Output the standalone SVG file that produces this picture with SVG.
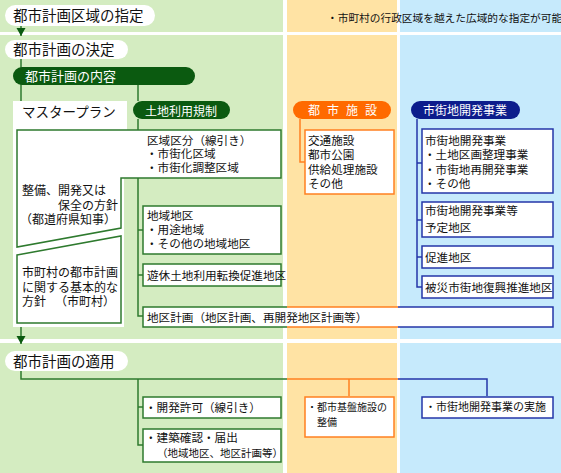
<svg xmlns="http://www.w3.org/2000/svg" width="561" height="473" viewBox="0 0 561 473">
<style>
text{font-family:"Liberation Sans","Noto Sans CJK JP",sans-serif;fill:#111}
.t12{font-size:11.6px}
.l12{font-size:12px}
.t11{font-size:11px}
.t10{font-size:10px}
.head{font-size:14.5px}
.w{fill:#fff}
.bg-g{fill:#d4ecc1}
.bg-o{fill:#ffe3a4}
.bg-b{fill:#c6eafc}
.pill-g{fill:#0b5a10}
.pill-o{fill:#ff6a00}
.pill-b{fill:#0c1d8c}
.box-g{fill:#fff;stroke:#2e7a2e;stroke-width:1.5}
.box-o{fill:#fff;stroke:#ff8020;stroke-width:1.5}
.box-b{fill:#fff;stroke:#2536a8;stroke-width:1.5}
.cg{fill:none;stroke:#2e7a2e;stroke-width:1.5}
.co{fill:none;stroke:#ff8020;stroke-width:1.5}
.cb{fill:none;stroke:#2536a8;stroke-width:1.5}
</style>
<defs>
<marker id="arr" markerUnits="userSpaceOnUse" markerWidth="9" markerHeight="10" refX="8" refY="4.5" orient="auto">
<path d="M0,0 L8,4.5 L0,9 z" fill="#0b5a10"/>
</marker>
</defs>

<!-- backgrounds -->
<g id="background">
<rect x="0" y="0" width="561" height="473" fill="#fff"/>
<rect class="bg-g" x="0" y="0" width="283" height="32"/>
<rect class="bg-g" x="0" y="35" width="283" height="304"/>
<rect class="bg-g" x="0" y="343" width="283" height="130"/>
<rect class="bg-o" x="287" y="0" width="110" height="32"/>
<rect class="bg-o" x="287" y="35" width="110" height="304"/>
<rect class="bg-o" x="287" y="343" width="110" height="130"/>
<rect class="bg-b" x="400" y="0" width="161" height="32"/>
<rect class="bg-b" x="400" y="35" width="161" height="304"/>
<rect class="bg-b" x="400" y="343" width="161" height="130"/>
</g>

<!-- connectors -->
<g id="connectors">
<path class="cg" d="M21,26 V36" marker-end="url(#arr)" stroke="#0b5a10"/>
<path class="cg" d="M21,59 V101"/>
<path class="cg" d="M21,327 V344" marker-end="url(#arr)" stroke="#0b5a10"/>
<path class="cg" d="M138,85 V101"/>
<path class="cg" d="M138,119 V316 H143"/>
<path class="cg" d="M138,230 H143"/>
<path class="cg" d="M138,275 H143"/>
<path class="co" d="M300,119 V162 H305"/>
<path class="cb" d="M417,119 V287 H422"/>
<path class="cb" d="M417,163 H422"/>
<path class="cb" d="M417,220 H422"/>
<path class="cb" d="M417,257 H422"/>
<path class="cg" d="M21,371 V379 H287"/>
<path class="co" d="M287,379 H398"/>
<path class="cb" d="M398,379 H487 V396"/>
<path class="co" d="M349,379 V396"/>
<path class="cg" d="M138,379 V445 H143"/>
<path class="cg" d="M138,407 H143"/>
</g>

<!-- top notes / headers -->
<g id="area-designation">
<rect class="w" x="5" y="5" width="150" height="21" rx="10.5"/>
<text class="head" x="13" y="21">都市計画区域の指定</text>
</g>
<g id="note">
<text x="327" y="22.3" style="font-size:10.7px">・市町村の行政区域を越えた広域的な指定が可能</text>
</g>
<g id="decision">
<rect class="w" x="5" y="40" width="123" height="19" rx="9.5"/>
<text class="head" x="13" y="55">都市計画の決定</text>
</g>
<g id="contents">
<rect class="pill-g" x="13" y="67" width="182" height="18" rx="9"/>
<text class="w" x="25" y="81" style="font-size:13px">都市計画の内容</text>
</g>

<!-- master plan -->
<g id="master-plan">
<rect class="w" x="13" y="101" width="114" height="29"/>
<rect class="w" x="13" y="130" width="111" height="197"/>
<text x="22" y="117" style="font-size:13.5px">マスタープラン</text>
</g>
<g id="policy-prefecture">
<path class="box-g" d="M17,130 H281 V178 H121 V228 L17,247 Z"/>
<text class="t12" x="147" y="144.5">区域区分（線引き）</text>
<text class="t12" x="146" y="158">・市街化区域</text>
<text class="t12" x="146" y="171.5">・市街化調整区域</text>
<text class="l12" x="22" y="194.5">整備、開発又は</text>
<text class="l12" x="58" y="209.5">保全の方針</text>
<text class="l12" x="20" y="223.5">（都道府県知事）</text>
</g>
<g id="policy-municipal">
<path class="box-g" d="M17,255 L121,236 V323 H17 Z"/>
<text class="l12" x="22" y="276.5">市町村の都市計画</text>
<text class="l12" x="22" y="291.5">に関する基本的な</text>
<text class="l12" x="22" y="305.5">方針</text>
<text class="l12" x="55" y="305.5">（市町村）</text>
</g>

<!-- land use -->
<g id="land-use">
<rect class="pill-g" x="133" y="101" width="97" height="18" rx="9"/>
<text class="l12 w" x="145" y="115.5">土地利用規制</text>
</g>
<g id="zoning">
<rect class="box-g" x="143" y="206" width="138" height="48"/>
<text class="t12" x="147" y="219.5">地域地区</text>
<text class="t12" x="146" y="233.5">・用途地域</text>
<text class="t12" x="146" y="248">・その他の地域地区</text>
</g>
<g id="idle-land">
<rect class="box-g" x="143" y="264" width="138" height="22"/>
<text class="t12" x="147" y="279.5">遊休土地利用転換促進地区</text>
</g>
<g id="district-plan">
<rect class="w" x="143" y="307" width="410" height="20"/>
<path class="cg" d="M287,307 H143 V327 H287"/>
<path class="co" d="M287,307 H398 M287,327 H398"/>
<path class="cb" d="M398,307 H553 V327 H398"/>
<text class="t12" x="147" y="322">地区計画（地区計画、再開発地区計画等）</text>
</g>

<!-- urban facilities -->
<g id="facilities">
<rect class="pill-o" x="293" y="101" width="98" height="18" rx="9"/>
<text class="l12 w" x="308" y="115" letter-spacing="7">都市施設</text>
</g>
<g id="facility-list">
<rect class="box-o" x="305" y="130" width="89" height="64"/>
<text class="t12" x="308" y="144.5">交通施設</text>
<text class="t12" x="308" y="158.5">都市公園</text>
<text class="t12" x="308" y="173.5">供給処理施設</text>
<text class="t12" x="308" y="187.5">その他</text>
</g>

<!-- urban development -->
<g id="development">
<rect class="pill-b" x="411" y="101" width="109" height="18" rx="9"/>
<text class="l12 w" x="423" y="115">市街地開発事業</text>
</g>
<g id="dev-projects">
<rect class="box-b" x="422" y="129" width="131" height="64"/>
<text class="t12" x="425" y="144.5">市街地開発事業</text>
<text class="t12" x="424" y="158.5">・土地区画整理事業</text>
<text class="t12" x="424" y="173.5">・市街地再開発事業</text>
<text class="t12" x="424" y="187.5">・その他</text>
</g>
<g id="dev-planned">
<rect class="box-b" x="422" y="202" width="131" height="35"/>
<text class="t12" x="425" y="214.5">市街地開発事業等</text>
<text class="t12" x="425" y="231.5">予定地区</text>
</g>
<g id="promotion">
<rect class="box-b" x="422" y="246" width="131" height="22"/>
<text class="t12" x="425" y="261.5">促進地区</text>
</g>
<g id="disaster">
<rect class="box-b" x="422" y="276" width="131" height="22"/>
<text class="t12" x="425" y="291.5">被災市街地復興推進地区</text>
</g>

<!-- application -->
<g id="application">
<rect class="w" x="5" y="351" width="123" height="20" rx="10"/>
<text class="head" x="13" y="366.5">都市計画の適用</text>
</g>
<g id="dev-permit">
<rect class="box-g" x="143" y="397" width="138" height="21"/>
<text class="t12" x="145" y="411.5">・開発許可（線引き）</text>
</g>
<g id="building-confirm">
<rect class="box-g" x="143" y="429" width="138" height="33"/>
<text class="t12" x="145" y="441.5">・建築確認・届出</text>
<text x="157" y="457" style="font-size:10.5px">（地域地区、地区計画等）</text>
</g>
<g id="infrastructure">
<rect class="box-o" x="305" y="397" width="89" height="40"/>
<text class="t10" x="307" y="411">・都市基盤施設の</text>
<text class="t10" x="317" y="426">整備</text>
</g>
<g id="dev-implement">
<rect class="box-b" x="422" y="397" width="131" height="21"/>
<text class="t11" x="425" y="411">・市街地開発事業の実施</text>
</g>
</svg>
